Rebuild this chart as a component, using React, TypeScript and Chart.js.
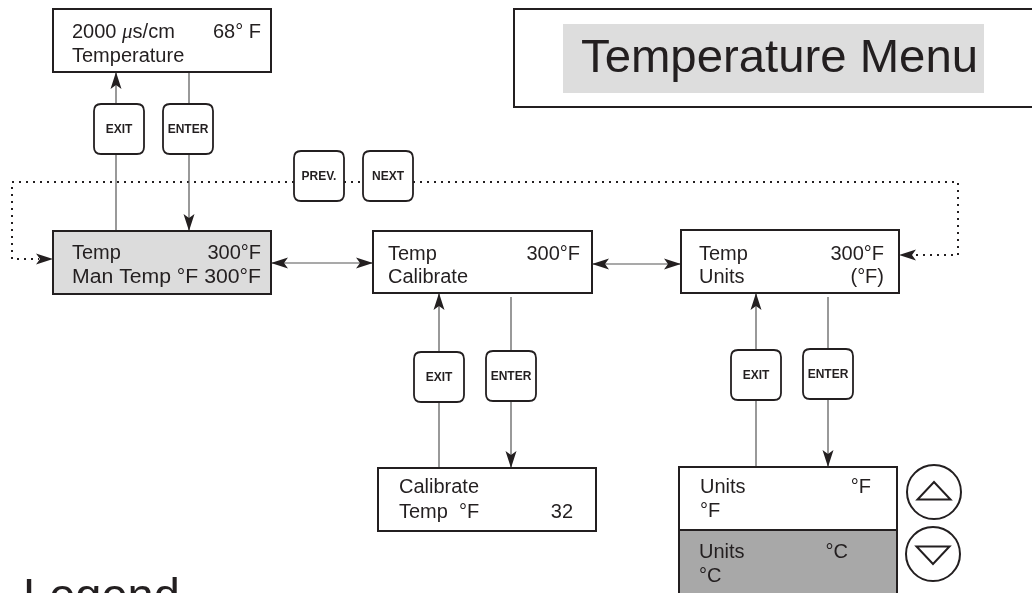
import React, { useEffect, useRef } from "react";
import { Chart, registerables } from "chart.js";
Chart.register(...registerables);

// ---- Diagram content (text) ----
const screenLine1Left = ["2000 μs/cm", "Temp", "Temp", "Temp", "Calibrate", "Units", "Units"];
const screenLine1Right = ["68° F", "300°F", "300°F", "300°F", "", "°F", "°C"];
const screenLine2Left = ["Temperature", "Man Temp °F 300°F", "Calibrate", "Units", "Temp  °F", "°F", "°C"];
const screenLine2Right = ["", "", "", "(°F)", "32", "", ""];
const keyLabels = ["EXIT", "ENTER", "PREV.", "NEXT", "EXIT", "ENTER", "EXIT", "ENTER"];
const titleText = "Temperature Menu";
const legendText = "Legend";

// ---- Layout (diagram units, mapped through the chart scales) ----
const screenLeft = [53, 53, 373, 681, 378, 679, 679];
const screenRight = [271, 271, 592, 899, 596, 897, 897];
const screenTop = [9, 231, 231, 230, 468, 467, 530];
const screenBottom = [72, 294, 293, 293, 531, 530, 600];
const screenFill = ["#ffffff", "#dcdcdc", "#ffffff", "#ffffff", "#ffffff", "#ffffff", "#a8a8a8"];
const textLeftX = [72, 72, 388, 699, 399, 700, 699];
const textRightX = [261, 261, 580, 884, 573, 871, 848];
const baseline1 = [38, 259, 260, 260, 493, 493, 558];
const baseline2 = [62, 283, 283, 283, 518, 517, 582];

const keyLeft = [94, 163, 294, 363, 414, 486, 731, 803];
const keyTop = [104, 104, 151, 151, 352, 351, 350, 349];
const keySize = 50;

// connectors: [x1, y1, x2, y2, arrowAtEnd, arrowAtStart]
const solidLinks: [number, number, number, number, boolean, boolean][] = [
  [116, 231, 116, 154, false, false],
  [116, 104, 116, 72, true, false],
  [189, 72, 189, 104, false, false],
  [189, 154, 189, 231, true, false],
  [271, 263, 373, 263, true, true],
  [592, 264, 681, 264, true, true],
  [439, 468, 439, 402, false, false],
  [439, 352, 439, 293, true, false],
  [511, 297, 511, 351, false, false],
  [511, 401, 511, 468, true, false],
  [756, 467, 756, 400, false, false],
  [756, 350, 756, 293, true, false],
  [828, 297, 828, 349, false, false],
  [828, 399, 828, 467, true, false],
];
const dottedPathX = [[294, 12, 12, 53], [344, 363], [413, 958, 958, 899]];
const dottedPathY = [[182, 182, 259, 259], [182, 182], [182, 182, 255, 255]];
const dottedArrow = [true, false, true];

const circleX = [934, 933];
const circleY = [492, 554];
const circleR = 27;
const triDir = [1, -1];

const INK = "#231f20";
const FONT = "'Liberation Sans', Arial, sans-serif";

function arrowHead(ctx: CanvasRenderingContext2D, fx: number, fy: number, tx: number, ty: number) {
  const a = Math.atan2(ty - fy, tx - fx);
  const len = 17, hw = 5.5, notch = 4;
  ctx.save();
  ctx.translate(tx, ty);
  ctx.rotate(a);
  ctx.beginPath();
  ctx.moveTo(0, 0);
  ctx.lineTo(-len, -hw);
  ctx.lineTo(-len + notch, 0);
  ctx.lineTo(-len, hw);
  ctx.closePath();
  ctx.fillStyle = INK;
  ctx.fill();
  ctx.restore();
}

function roundRect(ctx: CanvasRenderingContext2D, x: number, y: number, w: number, h: number, r: number) {
  ctx.beginPath();
  ctx.moveTo(x + r, y);
  ctx.lineTo(x + w - r, y);
  ctx.quadraticCurveTo(x + w, y, x + w, y + r);
  ctx.lineTo(x + w, y + h - r);
  ctx.quadraticCurveTo(x + w, y + h, x + w - r, y + h);
  ctx.lineTo(x + r, y + h);
  ctx.quadraticCurveTo(x, y + h, x, y + h - r);
  ctx.lineTo(x, y + r);
  ctx.quadraticCurveTo(x, y, x + r, y);
  ctx.closePath();
}

function drawRich(ctx: CanvasRenderingContext2D, text: string, x: number, y: number, size: number) {
  // render the micro sign in italics, the rest upright
  const parts = text.split("μ");
  let cx = x;
  parts.forEach((p, i) => {
    ctx.font = `${size}px ${FONT}`;
    ctx.fillText(p, cx, y);
    cx += ctx.measureText(p).width;
    if (i < parts.length - 1) {
      ctx.font = `italic ${size + 1}px 'Liberation Serif', serif`;
      ctx.fillText("μ", cx, y);
      cx += ctx.measureText("μ").width;
    }
  });
}

const diagramPlugin = {
  id: "diagram",
  afterDatasetsDraw(chart: any) {
    const { ctx, scales } = chart;
    const X = (v: number) => scales.x.getPixelForValue(v);
    const Y = (v: number) => scales.y.getPixelForValue(v);
    ctx.save();
    ctx.textBaseline = "alphabetic";

    // title box
    ctx.fillStyle = "#ffffff";
    ctx.strokeStyle = INK;
    ctx.lineWidth = 2;
    ctx.fillRect(X(514), Y(9), X(1045) - X(514), Y(107) - Y(9));
    ctx.strokeRect(X(514), Y(9), X(1045) - X(514), Y(107) - Y(9));
    ctx.fillStyle = "#dddddd";
    ctx.fillRect(X(563), Y(24), X(984) - X(563), Y(93) - Y(24));
    ctx.fillStyle = INK;
    ctx.font = `47px ${FONT}`;
    ctx.textAlign = "left";
    {
      const w = ctx.measureText(titleText).width;
      const target = X(978) - X(581);
      ctx.save();
      ctx.translate(X(581), Y(72));
      ctx.scale(target / w, 1);
      ctx.fillText(titleText, 0, 0);
      ctx.restore();
    }

    // dotted paths
    ctx.strokeStyle = INK;
    ctx.lineWidth = 2;
    ctx.setLineDash([2, 5]);
    dottedPathX.forEach((xs, i) => {
      const ys = dottedPathY[i];
      ctx.beginPath();
      ctx.moveTo(X(xs[0]), Y(ys[0]));
      for (let k = 1; k < xs.length; k++) {
        const last = k === xs.length - 1 && dottedArrow[i];
        const dx = Math.sign(xs[k] - xs[k - 1]) * (last ? 14 : 0);
        ctx.lineTo(X(xs[k] - dx), Y(ys[k]));
      }
      ctx.stroke();
    });
    ctx.setLineDash([]);
    dottedPathX.forEach((xs, i) => {
      if (!dottedArrow[i]) return;
      const ys = dottedPathY[i];
      const n = xs.length;
      arrowHead(ctx, X(xs[n - 2]), Y(ys[n - 2]), X(xs[n - 1]), Y(ys[n - 1]));
    });

    // solid connectors
    ctx.strokeStyle = "#555555";
    ctx.lineWidth = 1.2;
    solidLinks.forEach(([x1, y1, x2, y2, ae, as]) => {
      ctx.beginPath();
      ctx.moveTo(X(x1), Y(y1));
      ctx.lineTo(X(x2), Y(y2));
      ctx.stroke();
      if (ae) arrowHead(ctx, X(x1), Y(y1), X(x2), Y(y2));
      if (as) arrowHead(ctx, X(x2), Y(y2), X(x1), Y(y1));
    });

    // screens
    screenLeft.forEach((l, i) => {
      const x0 = X(l), y0 = Y(screenTop[i]);
      const w = X(screenRight[i]) - x0, h = Y(screenBottom[i]) - y0;
      ctx.fillStyle = screenFill[i];
      ctx.fillRect(x0, y0, w, h);
      ctx.strokeStyle = INK;
      ctx.lineWidth = 2;
      ctx.strokeRect(x0, y0, w, h);
      ctx.fillStyle = INK;
      ctx.textAlign = "left";
      drawRich(ctx, screenLine1Left[i], X(textLeftX[i]), Y(baseline1[i]), 20);
      ctx.font = `20px ${FONT}`;
      const l2 = screenLine2Left[i];
      const natural = ctx.measureText(l2).width;
      const span = X(textRightX[i]) - X(textLeftX[i]);
      if (!screenLine2Right[i] && natural > span * 0.9) {
        // full-width line: fit between the two text edges
        ctx.save();
        ctx.translate(X(textLeftX[i]), Y(baseline2[i]));
        ctx.scale(span / natural, 1);
        ctx.fillText(l2, 0, 0);
        ctx.restore();
      } else {
        ctx.fillText(l2, X(textLeftX[i]), Y(baseline2[i]));
      }
      ctx.textAlign = "right";
      ctx.fillText(screenLine1Right[i], X(textRightX[i]), Y(baseline1[i]));
      ctx.fillText(screenLine2Right[i], X(textRightX[i]), Y(baseline2[i]));
    });

    // keys
    keyLabels.forEach((lab, i) => {
      const x0 = X(keyLeft[i]), y0 = Y(keyTop[i]);
      const s = X(keyLeft[i] + keySize) - x0;
      roundRect(ctx, x0, y0, s, s, 7);
      ctx.fillStyle = "#ffffff";
      ctx.fill();
      ctx.strokeStyle = INK;
      ctx.lineWidth = 1.8;
      ctx.stroke();
      ctx.fillStyle = INK;
      ctx.font = `bold 12px ${FONT}`;
      ctx.textAlign = "center";
      ctx.textBaseline = "middle";
      ctx.fillText(lab, x0 + s / 2, y0 + s / 2 + 1);
      ctx.textBaseline = "alphabetic";
    });

    // up / down buttons
    circleX.forEach((cx, i) => {
      const px = X(cx), py = Y(circleY[i]);
      const r = X(cx + circleR) - px;
      ctx.beginPath();
      ctx.arc(px, py, r, 0, Math.PI * 2);
      ctx.strokeStyle = INK;
      ctx.lineWidth = 2;
      ctx.stroke();
      const d = triDir[i];
      ctx.beginPath();
      ctx.moveTo(px - 16.5, py + d * 7.5);
      ctx.lineTo(px + 16.5, py + d * 7.5);
      ctx.lineTo(px, py - d * 10);
      ctx.closePath();
      ctx.stroke();
    });

    // legend heading (cut off at the bottom edge)
    ctx.fillStyle = INK;
    ctx.font = `47px ${FONT}`;
    ctx.textAlign = "left";
    ctx.fillText(legendText, X(23), Y(611));

    ctx.restore();
  },
};

export default function App() {
  const ref = useRef<HTMLCanvasElement | null>(null);
  useEffect(() => {
    if (!ref.current) return;
    const anchors = screenLeft.map((l, i) => ({
      x: (l + screenRight[i]) / 2,
      y: (screenTop[i] + screenBottom[i]) / 2,
    }));
    const chart = new Chart(ref.current, {
      type: "scatter",
      data: {
        datasets: [
          {
            label: "screens",
            data: anchors,
            pointRadius: 0,
            pointHoverRadius: 0,
          },
        ],
      },
      options: {
        animation: false,
        responsive: false,
        devicePixelRatio: 1,
        layout: { padding: 0 },
        events: [],
        plugins: { legend: { display: false }, tooltip: { enabled: false } },
        scales: {
          x: { type: "linear", min: 0, max: 1032, display: false },
          y: { type: "linear", min: 0, max: 593, reverse: true, display: false },
        },
      },
      plugins: [diagramPlugin],
    });
    return () => chart.destroy();
  }, []);
  return (
    <div style={{ position: "absolute", left: 0, top: 0, width: 1032, height: 593, background: "#fff" }}>
      <canvas ref={ref} width={1032} height={593} style={{ display: "block" }} />
    </div>
  );
}
